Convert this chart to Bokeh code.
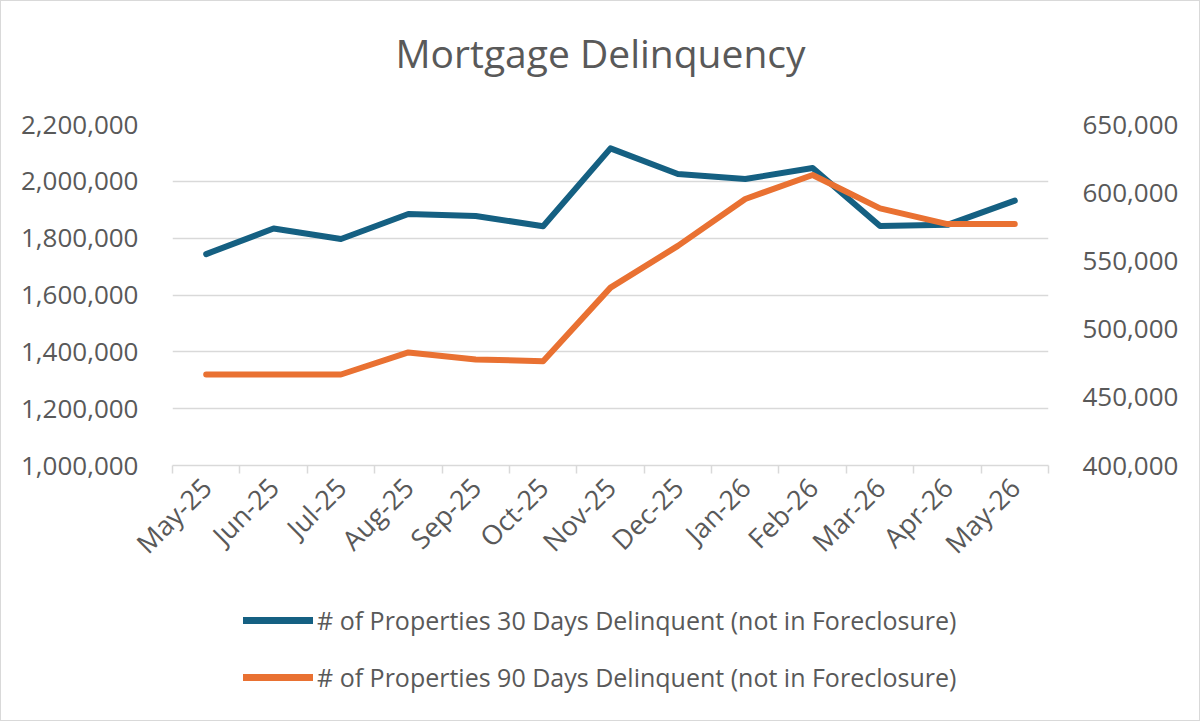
import numpy as np
from bokeh.plotting import figure
from bokeh.layouts import column
from bokeh.models import (Range1d, LinearAxis, FixedTicker, NumeralTickFormatter,
                          Legend, LegendItem, Title)
from bokeh.embed import file_html
from bokeh.resources import INLINE

# Monthly counts of delinquent properties
months = ["May-25", "Jun-25", "Jul-25", "Aug-25", "Sep-25", "Oct-25", "Nov-25",
          "Dec-25", "Jan-26", "Feb-26", "Mar-26", "Apr-26", "May-26"]
delinq_30 = [1744000, 1834000, 1797000, 1885000, 1878000, 1842000, 2116000,
             2026000, 2008000, 2047000, 1843000, 1847000, 1932000]
delinq_90 = [466700, 466700, 466700, 482900, 477700, 476500, 530400,
             561000, 595400, 613000, 588500, 577000, 577000]

series_names = ["# of Properties 30 Days Delinquent (not in Foreclosure)",
                "# of Properties 90 Days Delinquent (not in Foreclosure)"]

left_ticks = [1000000, 1200000, 1400000, 1600000, 1800000, 2000000, 2200000]
right_ticks = [400000, 450000, 500000, 550000, 600000, 650000]

FONT = "Open Sans"
TEXT = "#595959"
GRID = "#d9d9d9"
BLUE = "#156082"
ORANGE = "#E97132"

# each month sits in the middle of its own slot; slot edges carry the tick marks
xs = np.arange(len(months)) + 0.5
labels = {float(x): m for x, m in zip(xs, months)}

p = figure(width=1198, height=589, output_backend="svg", toolbar_location=None,
           x_range=Range1d(0, len(months)), y_range=Range1d(left_ticks[0], left_ticks[-1]),
           min_border_left=171, min_border_right=151, min_border_top=123,
           min_border_bottom=125)
p.outline_line_color = None
p.background_fill_color = "white"
p.border_fill_color = "white"

# blank spacer keeps the heading clear of the plot area
p.add_layout(Title(text=" ", text_font_size="1px", standoff=43), "above")
p.add_layout(Title(text="Mortgage Delinquency", align="left", offset=223,
                   text_font=FONT, text_font_size="39px", text_font_style="normal",
                   text_color=TEXT, standoff=0), "above")

p.extra_y_ranges = {"right": Range1d(right_ticks[0], right_ticks[-1])}
right_axis = LinearAxis(y_range_name="right")
p.add_layout(right_axis, "right")

for ax, ticks in ((p.yaxis[0], left_ticks), (right_axis, right_ticks)):
    ax.ticker = FixedTicker(ticks=ticks)
    ax.formatter = NumeralTickFormatter(format="0,0")
    ax.axis_line_color = None
    ax.major_tick_line_color = None
    ax.minor_tick_line_color = None
    ax.major_label_text_font = FONT
    ax.major_label_text_font_size = "26px"
    ax.major_label_text_color = TEXT
    ax.major_label_standoff = 28

xa = p.xaxis[0]
xa.ticker = FixedTicker(ticks=list(xs), minor_ticks=list(range(len(months) + 1)))
xa.major_label_overrides = labels
xa.major_label_orientation = np.pi / 4
xa.major_label_text_font = FONT
xa.major_label_text_font_size = "27px"
xa.major_label_text_color = TEXT
xa.major_label_standoff = 9
xa.major_tick_line_color = None
xa.minor_tick_line_color = GRID
xa.minor_tick_line_width = 1.5
xa.minor_tick_out = 8
xa.minor_tick_in = 0
xa.axis_line_color = GRID
xa.axis_line_width = 1.5

p.xgrid.grid_line_color = None
p.ygrid.ticker = FixedTicker(ticks=left_ticks)
p.ygrid.grid_line_color = GRID
p.ygrid.grid_line_width = 1.5

p.line(xs, delinq_30, line_color=BLUE, line_width=6,
       line_cap="round", line_join="round")
p.line(xs, delinq_90, line_color=ORANGE, line_width=6,
       line_cap="round", line_join="round", y_range_name="right")

# legend strip under the chart; its frame lines up with the chart's frame,
# and its 0..1 range keeps the series themselves out of view
leg = figure(width=1198, height=130, output_backend="svg", toolbar_location=None,
             x_range=Range1d(0, 1), y_range=Range1d(0, 1),
             min_border_left=0, min_border_right=0, min_border_top=0, min_border_bottom=0)
leg.axis.visible = False
leg.grid.visible = False
leg.outline_line_color = None
leg.border_fill_color = "white"

keys = []
for name, color, vals in zip(series_names, [BLUE, ORANGE], [delinq_30, delinq_90]):
    r = leg.line(xs, vals, line_color=color, line_width=7, line_cap="round")
    keys.append(LegendItem(label=name, renderers=[r]))

legend = Legend(items=keys, orientation="vertical", location=(71, 26))
legend.label_text_font = FONT
legend.label_text_font_size = "25px"
legend.label_text_color = TEXT
legend.glyph_width = 70
legend.glyph_height = 30
legend.label_height = 30
legend.label_standoff = 4
legend.spacing = 23
legend.padding = 0
legend.margin = 0
legend.border_line_color = None
legend.background_fill_alpha = 0
leg.add_layout(legend, "center")

page = column(p, leg, spacing=0, styles={"border": "1px solid #d9d9d9"})

open("out.html", "w").write(file_html(page, INLINE))
